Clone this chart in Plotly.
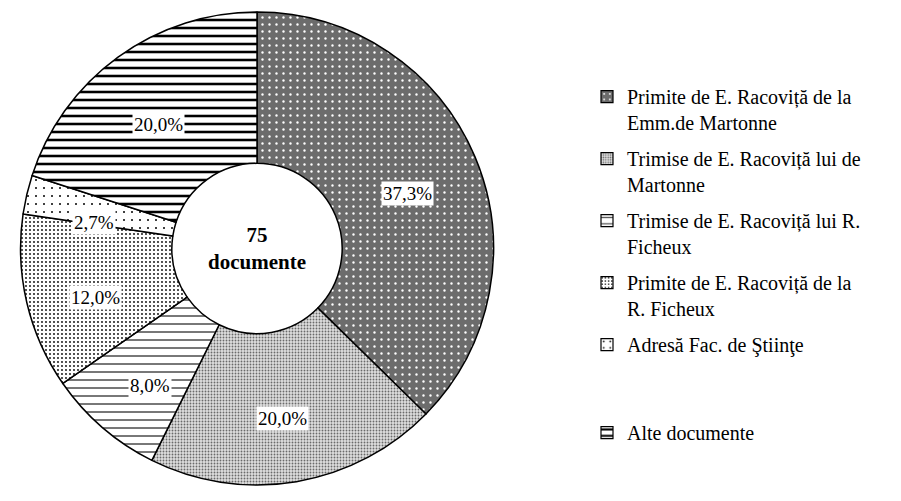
import math
import plotly.graph_objects as go

# Correspondence of E. Racoviță, 75 documents in total
categories = [
    "Primite de E. Racoviță de la<br>Emm.de Martonne",
    "Trimise de E. Racoviță lui de<br>Martonne",
    "Trimise de E. Racoviță lui R.<br>Ficheux",
    "Primite de E. Racoviță de la<br>R. Ficheux",
    "Adresă Fac. de Ştiinţe",
    "Alte documente",
]
counts = [28, 15, 6, 9, 2, 15]

# fill patterns per slice
bg_colors = ["#6c6c6c", "#dedede", "white", "white", "white", "white"]
fg_colors = ["white", "#6a6a6a", "#555555", "black", "black", "black"]
shapes = [".", ".", "-", ".", ".", "-"]
pat_sizes = [7, 3, 8, 4, 8, 8]
solidity = [0.09, 0.3, 0.2, 0.16, 0.05, 0.32]

# percentage label placement: radius (fraction of pie radius) and angular nudge (deg)
label_r = [0.676, 0.727, 0.735, 0.715, 0.70, 0.67]
label_dang = [2.8, 1.0, -2.7, -3.5, -4.0, -2.4]

total = sum(counts)
FONT = "Liberation Serif, Times New Roman, serif"

W, H = 901, 501
dom_x = [0.0222, 0.5483]
dom_y = [0.032, 0.976]


def pattern(i):
    return dict(shape=shapes[i], fgcolor=fg_colors[i], bgcolor=bg_colors[i],
                size=pat_sizes[i], solidity=solidity[i], fillmode="replace")


fig = go.Figure(go.Pie(
    labels=categories,
    values=counts,
    sort=False,
    direction="clockwise",
    rotation=0,
    hole=0.36,
    textinfo="none",
    showlegend=False,
    marker=dict(
        colors=bg_colors,
        line=dict(color="black", width=1.5),
        pattern=dict(shape=shapes, fgcolor=fg_colors, bgcolor=bg_colors,
                     size=pat_sizes, solidity=solidity, fillmode="replace"),
    ),
    domain=dict(x=dom_x, y=dom_y),
    hoverinfo="label+value+percent",
))

# legend entries (one group each so the spacing between entries can be set)
for i, name in enumerate(categories):
    if i == 4:
        name = name + "<br>&nbsp;<br>&nbsp;"  # wider gap before the last entry
    fig.add_trace(go.Bar(
        x=[None], y=[None], name=name, legendgroup=f"g{i}",
        marker=dict(color=bg_colors[i], line=dict(color="black", width=1.2),
                    pattern=pattern(i)),
        hoverinfo="skip",
    ))

# percentage labels on white boxes around each slice's mid angle
cx = (dom_x[0] + dom_x[1]) / 2
cy = (dom_y[0] + dom_y[1]) / 2
rad_px = min((dom_x[1] - dom_x[0]) * W, (dom_y[1] - dom_y[0]) * H) / 2
cum = 0
for v, rf, da in zip(counts, label_r, label_dang):
    mid = (cum + v / 2) / total * 2 * math.pi + math.radians(da)
    cum += v
    pct = f"{100 * v / total:.1f}".replace(".", ",") + "%"
    x = cx + rf * rad_px * math.sin(mid) / W
    y = cy + rf * rad_px * math.cos(mid) / H
    fig.add_annotation(x=x, y=y, xref="paper", yref="paper", text=pct,
                       xanchor="center", yanchor="middle",
                       showarrow=False, bgcolor="white", borderpad=1,
                       font=dict(family=FONT, size=19, color="black"))

fig.add_annotation(x=cx, y=cy, xref="paper", yref="paper",
                   text=f"<b>{total}</b><br><b>documente</b>", showarrow=False,
                   xanchor="center", yanchor="middle",
                   font=dict(family=FONT, size=21, color="black"))

fig.update_layout(
    width=W, height=H,
    margin=dict(l=0, r=0, t=0, b=0),
    paper_bgcolor="white",
    plot_bgcolor="white",
    xaxis=dict(visible=False),
    yaxis=dict(visible=False),
    showlegend=True,
    legend=dict(x=0.6515, y=0.846, xanchor="left", yanchor="top",
                valign="top", tracegroupgap=7,
                font=dict(family=FONT, size=20, color="black"),
                bgcolor="rgba(0,0,0,0)"),
)

fig.write_html("out.html")
